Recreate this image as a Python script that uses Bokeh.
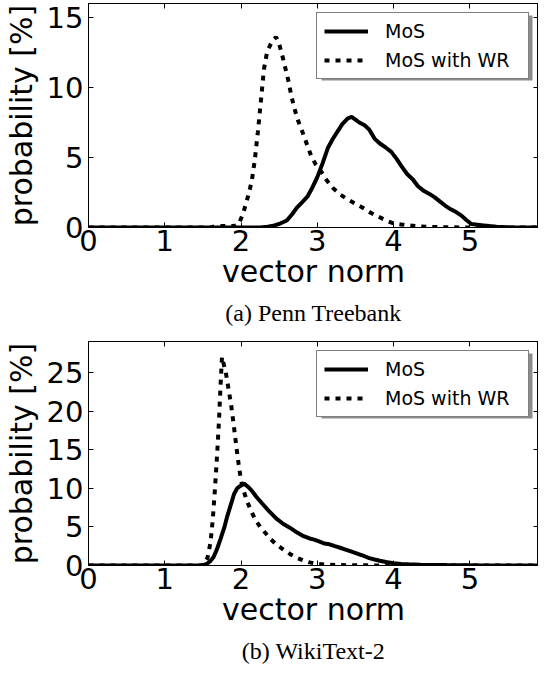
from bokeh.plotting import figure
from bokeh.layouts import column
from bokeh.models import (LinearAxis, Title, Range1d, Legend, LegendItem, FixedTicker,
                          CustomJSTickFormatter, BoxAnnotation)
from bokeh.embed import file_html
from bokeh.resources import INLINE

# ---- data: (a) Penn Treebank ----
ptb_mos_x = [0, 2.25, 2.35, 2.44, 2.52, 2.6, 2.67, 2.73, 2.8, 2.87, 2.93, 3.0, 3.07, 3.14, 3.2, 3.27,
             3.33, 3.4, 3.45, 3.5, 3.55, 3.62, 3.68, 3.75, 3.82, 3.9, 3.97, 4.04, 4.1, 4.18, 4.25,
             4.32, 4.4, 4.47, 4.54, 4.61, 4.68, 4.75, 4.82, 4.89, 4.95, 5.02, 5.1, 5.18, 5.26, 5.35,
             5.5, 5.9]
ptb_mos_y = [0, 0, 0.05, 0.15, 0.3, 0.5, 0.95, 1.4, 1.8, 2.2, 2.8, 3.6, 4.6, 5.7, 6.3, 6.9,
             7.4, 7.8, 7.9, 7.7, 7.5, 7.3, 7.0, 6.35, 6.0, 5.7, 5.4, 4.9, 4.4, 3.8, 3.45,
             2.95, 2.6, 2.4, 2.15, 1.85, 1.55, 1.3, 1.1, 0.85, 0.55, 0.25, 0.2, 0.15, 0.1, 0.05,
             0.01, 0]
ptb_wr_x = [0, 1.6, 1.65, 1.75, 1.85, 1.93, 1.97, 2.02, 2.06, 2.1, 2.14, 2.18, 2.22, 2.26, 2.3, 2.34,
            2.38, 2.42, 2.46, 2.5, 2.54, 2.58, 2.62, 2.66, 2.7, 2.75, 2.8, 2.86, 2.92, 2.98, 3.05,
            3.12, 3.2, 3.3, 3.4, 3.5, 3.6, 3.7, 3.8, 3.9, 4.0, 4.1, 4.2, 4.35, 4.5, 4.7, 5.9]
ptb_wr_y = [0, 0, 0.08, 0.1, 0.1, 0.12, 0.25, 0.9, 1.6, 2.4, 3.3, 4.8, 6.8, 9.0, 11.3, 12.5,
            13.0, 13.4, 13.6, 13.1, 12.3, 11.4, 10.5, 9.4, 8.5, 7.6, 6.9, 6.0, 5.1, 4.5, 4.0,
            3.4, 2.85, 2.35, 2.0, 1.7, 1.4, 1.05, 0.78, 0.5, 0.3, 0.22, 0.15, 0.08, 0.04, 0.01, 0]

# ---- data: (b) WikiText-2 ----
wt2_mos_x = [0, 1.45, 1.5, 1.55, 1.6, 1.64, 1.68, 1.73, 1.78, 1.82, 1.87, 1.91, 1.95, 1.99, 2.04,
             2.09, 2.14, 2.2, 2.28, 2.37, 2.46, 2.55, 2.64, 2.73, 2.82, 2.9, 2.96, 3.03, 3.09, 3.16,
             3.23, 3.3, 3.36, 3.45, 3.55, 3.62, 3.68, 3.75, 3.82, 3.9, 4.0, 4.1, 4.2, 4.35, 4.5,
             4.7, 4.95, 5.2, 5.9]
wt2_mos_y = [0, 0, 0.05, 0.2, 0.6, 1.1, 2.0, 3.4, 4.9, 6.4, 8.0, 9.3, 10.0, 10.3, 10.6,
             10.2, 9.7, 8.9, 8.0, 7.0, 6.1, 5.4, 4.9, 4.3, 3.8, 3.5, 3.35, 3.1, 2.85, 2.75,
             2.5, 2.3, 2.1, 1.8, 1.45, 1.2, 0.95, 0.78, 0.62, 0.45, 0.3, 0.2, 0.15, 0.1, 0.08,
             0.05, 0.03, 0.01, 0]
wt2_wr_x = [0, 1.48, 1.52, 1.56, 1.6, 1.63, 1.66, 1.69, 1.71, 1.73, 1.75, 1.77, 1.8, 1.83, 1.87,
            1.9, 1.94, 1.97, 2.0, 2.04, 2.08, 2.13, 2.19, 2.25, 2.32, 2.39, 2.46, 2.55, 2.64, 2.73,
            2.82, 2.9, 3.0, 3.15, 3.3, 3.5, 3.8, 5.9]
wt2_wr_y = [0, 0, 0.2, 1.0, 3.0, 6.0, 10.2, 15.0, 18.6, 23.0, 27.0, 26.2, 25.0, 23.2, 20.8,
            18.5, 15.3, 13.0, 11.0, 9.5, 8.3, 7.1, 5.9, 5.0, 4.2, 3.4, 2.75, 2.1, 1.5, 1.0,
            0.64, 0.4, 0.2, 0.1, 0.06, 0.03, 0.01, 0]

x_ticks = [0, 1, 2, 3, 4, 5]
ptb_y_ticks = [0, 5, 10, 15]
wt2_y_ticks = [0, 5, 10, 15, 20, 25]
series_labels = ["MoS", "MoS with WR"]

SANS = "DejaVu Sans"
SERIF = "Liberation Serif"

FRAME_W, FRAME_H = 450, 224
LEG_MARGIN, LEG_PAD, LEG_GLYPH_W, LEG_STANDOFF, LEG_LABEL_W = 9, 7, 44, 17, 136
LEG_ROW_H, LEG_SPACING = 22, 7


def make_panel(mos_x, mos_y, wr_x, wr_y, ymax, yticks, caption, top_border):
    p = figure(frame_width=FRAME_W, frame_height=FRAME_H, output_backend="svg", toolbar_location=None,
               x_range=Range1d(0, 5.9), y_range=Range1d(0, ymax),
               min_border_left=81, min_border_right=0, min_border_top=top_border,
               min_border_bottom=0)
    p.xgrid.visible = False
    p.ygrid.visible = False
    p.outline_line_color = "black"
    p.outline_line_width = 1

    r1 = p.line(mos_x, mos_y, line_color="black", line_width=4)
    r2 = p.line(wr_x, wr_y, line_color="black", line_width=4, line_dash="5 6")

    for ax, ticks in ((p.xaxis[0], x_ticks), (p.yaxis[0], yticks)):
        ax.ticker = FixedTicker(ticks=ticks)
        ax.major_tick_in = 5
        ax.major_tick_out = 0
        ax.minor_tick_line_color = None
        ax.axis_line_color = "black"
        ax.major_label_text_font = SANS
        ax.major_label_text_font_size = "29px"
        ax.major_label_text_color = "black"
        ax.axis_label_text_font = SANS
        ax.axis_label_text_font_size = "30px"
        ax.axis_label_text_font_style = "normal"
        ax.axis_label_text_color = "black"
    p.xaxis[0].axis_label = "vector norm"
    p.yaxis[0].axis_label = "probability [%]"
    p.xaxis[0].major_label_standoff = 2
    p.xaxis[0].axis_label_standoff = 0
    p.yaxis[0].major_label_standoff = 5
    p.yaxis[0].axis_label_standoff = 5

    blank = CustomJSTickFormatter(code="return ''")
    top = LinearAxis(ticker=FixedTicker(ticks=x_ticks), formatter=blank,
                     major_tick_in=5, major_tick_out=0, minor_tick_line_color=None,
                     major_label_text_font_size="0px", major_label_standoff=0)
    right = LinearAxis(ticker=FixedTicker(ticks=yticks), formatter=blank,
                       major_tick_in=5, major_tick_out=0, minor_tick_line_color=None,
                       major_label_text_font_size="0px", major_label_standoff=0)
    p.add_layout(top, "above")
    p.add_layout(right, "right")

    # legend drop shadow (screen units relative to the frame)
    leg_w = 2 * LEG_PAD + LEG_GLYPH_W + LEG_STANDOFF + LEG_LABEL_W
    leg_h = 2 * LEG_PAD + 2 * LEG_ROW_H + LEG_SPACING
    leg_right = FRAME_W - LEG_MARGIN
    leg_top = FRAME_H - LEG_MARGIN
    shadow = BoxAnnotation(left=leg_right - leg_w + 3, right=leg_right + 3,
                           top=leg_top - 3, bottom=leg_top - leg_h - 3,
                           left_units="screen", right_units="screen",
                           top_units="screen", bottom_units="screen",
                           fill_color="#8c8c8c", fill_alpha=1.0, line_color=None)
    p.add_layout(shadow)

    legend = Legend(items=[LegendItem(label=series_labels[0], renderers=[r1]),
                           LegendItem(label=series_labels[1], renderers=[r2])],
                    location="top_right")
    legend.label_text_font = SANS
    legend.label_text_font_size = "19px"
    legend.label_text_color = "black"
    legend.glyph_width = LEG_GLYPH_W
    legend.glyph_height = LEG_ROW_H
    legend.label_height = LEG_ROW_H
    legend.label_width = LEG_LABEL_W
    legend.label_standoff = LEG_STANDOFF
    legend.padding = LEG_PAD
    legend.spacing = LEG_SPACING
    legend.margin = LEG_MARGIN
    legend.border_line_color = "black"
    legend.border_line_width = 1
    legend.background_fill_alpha = 1.0
    p.add_layout(legend)

    p.add_layout(Title(text=caption, align="center", text_font=SERIF, text_font_size="24px",
                       text_font_style="normal", text_color="black", standoff=13), "below")
    return p


p1 = make_panel(ptb_mos_x, ptb_mos_y, ptb_wr_x, ptb_wr_y, 16, ptb_y_ticks, "(a) Penn Treebank", 3)
p2 = make_panel(wt2_mos_x, wt2_mos_y, wt2_wr_x, wt2_wr_y, 29, wt2_y_ticks, "(b) WikiText-2", 9)

layout = column(p1, p2)
open("out.html", "w").write(file_html(layout, INLINE))
